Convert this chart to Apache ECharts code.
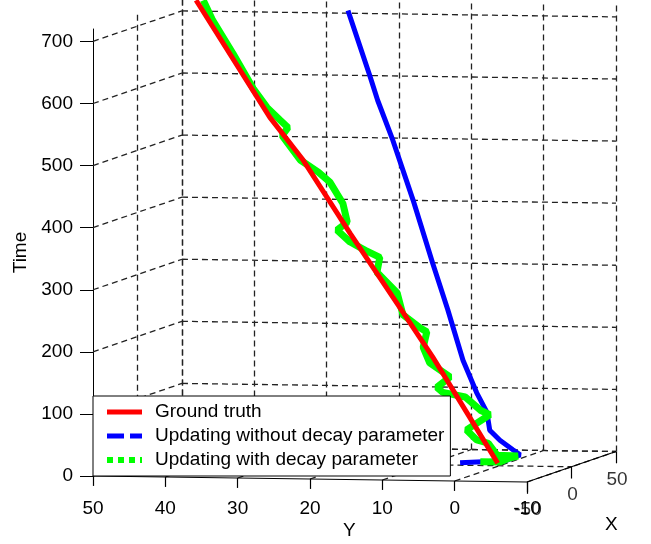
<!DOCTYPE html>
<html>
<head>
<meta charset="utf-8">
<script src="https://cdn.jsdelivr.net/npm/echarts@6/dist/echarts.min.js"></script>
<style>
    html, body { margin: 0; padding: 0; background: #fff; }
    #chart { width: 651px; height: 544px; }
</style>
</head>
<body>
<div id="chart"></div>
<script>
// ticks of the three axes
const timeTicks = [0, 100, 200, 300, 400, 500, 600, 700];
const yTicks = [50, 40, 30, 20, 10, 0, -10];
const xTicks = [-50, 0, 50];
const timeMax = 720;

// tracks (X taken as 0 for all of them)
const trackX = 0;
const truthTime = [4, 76, 174, 252, 371, 488, 556, 743];
const truthY = [0.2, 4.0, 9.2, 13.7, 20.6, 27.1, 31.7, 41.9];

const noDecayTime = [4, 8, 18, 26, 41, 57, 86, 117, 169, 250, 325, 426, 522, 586, 626, 730];
const noDecayY = [5.4, -0.8, -2.9, -1.9, -0.1, 1.3, 1.7, 3.1, 5.0, 7.1, 9.2, 11.9, 14.7, 16.8, 17.9, 20.9];

const withDecayTime = [6, 6, 13, 16, 17, 36, 41, 57, 82, 89, 110, 117, 125, 142, 164, 189, 214, 220, 241, 276,
    309, 333, 344, 357, 376, 389, 419, 453, 469, 488, 527, 540, 552, 572, 602, 658, 711, 743];
const withDecayY = [2.6, -0.1, -1.5, -2.6, 0.3, 1.5, 3.1, 4.5, 1.3, 2.6, 4.7, 7.8, 8.6, 6.8, 9.6, 10.5, 10.0, 10.9, 13.3, 14.1,
    16.9, 16.5, 18.5, 20.6, 22.4, 21.0, 21.6, 23.4, 25.0, 27.5, 30.0, 29.2, 30.3, 32.1, 34.0, 36.8, 39.6, 40.9];

const font = 'Liberation Sans, Arial, sans-serif';

// oblique view: X (depth) shifts a point right and up, Y has a slight downward slope
const kx = 0.123, kt = 0.4913, ks = 0.161;
function proj(x, y, t) {
    return [y - (x + 50) * kx, t + (x + 50) * kt - (50 - y) * ks];
}
function track(ys, ts) {
    return ys.map((y, i) => proj(trackX, y, ts[i]));
}

// dashed grid on the back wall, left wall and floor
const wallLines = [];
yTicks.forEach(y => wallLines.push({coords: [proj(50, y, 0), proj(50, y, timeMax)]}));
timeTicks.forEach(t => wallLines.push({coords: [proj(50, 50, t), proj(50, -10, t)]}));
timeTicks.forEach(t => wallLines.push({coords: [proj(-50, 50, t), proj(50, 50, t)]}));
xTicks.slice(1).forEach(x => wallLines.push({coords: [proj(x, 50, 0), proj(x, 50, timeMax)]}));
yTicks.forEach(y => wallLines.push({coords: [proj(-50, y, 0), proj(50, y, 0)]}));
xTicks.slice(1).forEach(x => wallLines.push({coords: [proj(x, 50, 0), proj(x, -10, 0)]}));

// solid Y and X axis lines with their ticks
const edgeLines = [
    {coords: [proj(-50, 50, 0), proj(-50, -10, 0)]},
    {coords: [proj(-50, -10, 0), proj(50, -10, 0)]}
];
yTicks.forEach(y => {
    const p = proj(-50, y, 0);
    edgeLines.push({coords: [p, [p[0], p[1] - 16]]});
});
xTicks.forEach(x => {
    const p = proj(x, -10, 0);
    edgeLines.push({coords: [p, [p[0], p[1] - 19]]});
});

const myChart = echarts.init(document.getElementById('chart'));

const option = {
    animation: false,
    backgroundColor: '#fff',
    grid: {left: 93, right: 124, top: 29, bottom: 68, containLabel: false, outerBoundsMode: 'none'},
    xAxis: {
        type: 'value', min: -10, max: 50, interval: 10, inverse: true,
        axisLine: {show: false}, axisTick: {show: false}, splitLine: {show: false},
        axisLabel: {margin: 23, fontSize: 19, color: '#000', fontFamily: font}
    },
    yAxis: {
        type: 'value', min: 0, max: timeMax, interval: 100,
        name: 'Time', nameLocation: 'middle', nameGap: 61,
        nameTextStyle: {fontSize: 19, color: '#000', fontFamily: font},
        axisLine: {show: true, onZero: false, lineStyle: {color: '#000', width: 1}},
        axisTick: {show: true, length: 13, customValues: timeTicks, lineStyle: {color: '#000'}},
        axisLabel: {customValues: timeTicks, margin: 20, fontSize: 19, color: '#000', fontFamily: font},
        splitLine: {show: false}
    },
    legend: {
        orient: 'vertical', left: 93, top: 396,
        backgroundColor: '#fff', borderColor: '#000', borderWidth: 1, borderRadius: 0,
        padding: [6, 6, 6, 11],
        itemWidth: 35, itemHeight: 14, itemGap: 4,
        selectedMode: false,
        textStyle: {fontSize: 19, color: '#000', fontFamily: font, lineHeight: 20, padding: [0, 0, 0, 8]},
        data: [
            {name: 'Ground truth', itemStyle: {opacity: 0}, lineStyle: {width: 5, type: 'solid'}},
            {name: 'Updating without decay parameter', itemStyle: {opacity: 0}, lineStyle: {width: 5, type: [17, 6]}},
            {name: 'Updating with decay parameter', itemStyle: {opacity: 0}, lineStyle: {width: 6, type: [6, 5]}}
        ]
    },
    graphic: [
        {type: 'text', left: 343, top: 521, style: {text: 'Y', font: '19px ' + font, fill: '#000'}},
        {type: 'text', left: 605, top: 515, style: {text: 'X', font: '19px ' + font, fill: '#000'}}
    ],
    series: [
        {
            type: 'lines', coordinateSystem: 'cartesian2d', clip: false, silent: true, z: 1,
            lineStyle: {color: '#222', width: 1.3, type: [6, 4], opacity: 1},
            data: wallLines
        },
        {
            type: 'lines', coordinateSystem: 'cartesian2d', clip: false, silent: true, z: 1,
            lineStyle: {color: '#000', width: 1.2, type: 'solid', opacity: 1},
            data: edgeLines
        },
        {
            type: 'scatter', symbolSize: 1, silent: true, clip: false,
            itemStyle: {color: 'rgba(0,0,0,0)'},
            label: {
                show: true, position: 'inside', offset: [1, 28],
                fontSize: 19, color: '#000', fontFamily: font,
                formatter: p => String(xTicks[p.dataIndex])
            },
            data: xTicks.map(x => proj(x, -10, 0))
        },
        {
            name: 'Updating without decay parameter', type: 'line', symbol: 'none', clip: false, z: 3,
            lineStyle: {color: '#0000ff', width: 5}, itemStyle: {color: '#0000ff'},
            data: track(noDecayY, noDecayTime)
        },
        {
            name: 'Updating with decay parameter', type: 'line', symbol: 'none', clip: false, z: 3,
            lineStyle: {color: '#00ff00', width: 7}, itemStyle: {color: '#00ff00'},
            data: track(withDecayY, withDecayTime)
        },
        {
            name: 'Ground truth', type: 'line', symbol: 'none', clip: false, z: 3,
            lineStyle: {color: '#ff0000', width: 5}, itemStyle: {color: '#ff0000'},
            data: track(truthY, truthTime)
        }
    ]
};

myChart.setOption(option);
</script>
</body>
</html>
